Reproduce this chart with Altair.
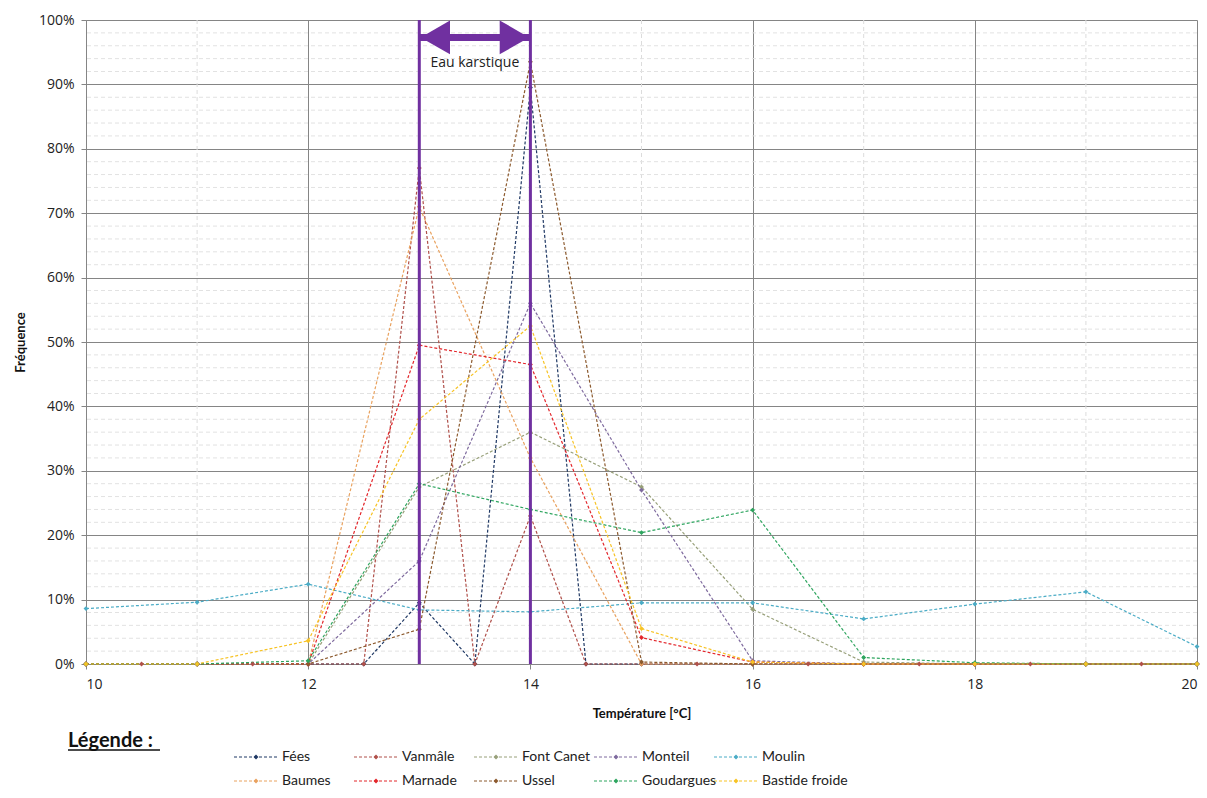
import altair as alt
import pandas as pd

# ---------------- data ----------------
series_names = ["Fées", "Vanmâle", "Font Canet", "Monteil", "Moulin",
                "Baumes", "Marnade", "Ussel", "Goudargues", "Bastide froide"]
series_colors = ["#1F3864", "#B0504A", "#98A07A", "#7E6A9E", "#4BACC6",
                 "#E9A25F", "#E3262B", "#8C5A2E", "#2EA55F", "#F7C325"]

temps_int = [10, 11, 12, 13, 14, 15, 16, 17, 18, 19, 20]

fees_x = [10, 11, 12, 12.5, 13, 13.5, 14, 14.5, 15, 16, 17, 18, 19, 20]
fees_y = [0, 0, 0, 0, 9.5, 0, 89.5, 0, 0, 0, 0, 0, 0, 0]

vanmale_x = [10, 10.5, 11, 11.5, 12, 12.5, 13, 13.5, 14, 14.5, 15, 15.5,
             16, 16.5, 17, 17.5, 18, 18.5, 19, 19.5, 20]
vanmale_y = [0, 0, 0, 0, 0, 0, 77, 0, 23, 0, 0, 0,
             0, 0, 0, 0, 0, 0, 0, 0, 0]

font_canet_y = [0, 0, 0, 27.5, 36, 27.5, 8.5, 0.3, 0, 0, 0]
monteil_y = [0, 0, 0, 16, 56, 27, 0.5, 0, 0, 0, 0]
moulin_y = [8.6, 9.6, 12.4, 8.4, 8.1, 9.5, 9.5, 7.0, 9.3, 11.2, 2.7]
baumes_y = [0, 0, 0, 71, 32, 0, 0, 0, 0, 0, 0]
marnade_y = [0, 0, 0, 49.5, 46.5, 4.1, 0.3, 0, 0, 0, 0]
ussel_y = [0, 0, 0, 5.4, 93.5, 0.3, 0, 0, 0, 0, 0]
goudargues_y = [0, 0, 0.5, 28, 24, 20.4, 23.9, 1.0, 0.2, 0, 0]
bastide_y = [0, 0, 3.6, 38, 52.5, 5.5, 0.3, 0, 0, 0, 0]

x_major = [10, 12, 14, 16, 18, 20]
x_minor = [11, 13, 15, 17, 19]
y_major = [0, 10, 20, 30, 40, 50, 60, 70, 80, 90, 100]
y_minor = [2, 4, 6, 8, 12, 14, 16, 18, 22, 24, 26, 28, 32, 34, 36, 38,
           42, 44, 46, 48, 52, 54, 56, 58, 62, 64, 66, 68, 72, 74, 76, 78,
           82, 84, 86, 88, 92, 94, 96, 98]

karst_bounds = [13, 14]
arrow_level = 97.3
karst_label = "Eau karstique"
karst_label_pos = [13.5, 93.3]

# ---------------- tables ----------------
series_xy = {
    "Fées": (fees_x, fees_y),
    "Vanmâle": (vanmale_x, vanmale_y),
    "Font Canet": (temps_int, font_canet_y),
    "Monteil": (temps_int, monteil_y),
    "Moulin": (temps_int, moulin_y),
    "Baumes": (temps_int, baumes_y),
    "Marnade": (temps_int, marnade_y),
    "Ussel": (temps_int, ussel_y),
    "Goudargues": (temps_int, goudargues_y),
    "Bastide froide": (temps_int, bastide_y),
}
rows = []
for k, name in enumerate(series_names):
    xs, ys = series_xy[name]
    for i, (t, f) in enumerate(zip(xs, ys)):
        rows.append({"serie": name, "k": k, "i": i, "t": t, "f": f})
df = pd.DataFrame(rows)

FONT = "Open Sans"
FONT2 = "Lato"
PURPLE = "#7030A0"

xscale = alt.Scale(domain=[10, 20], nice=False, zero=False)
yscale = alt.Scale(domain=[0, 100], nice=False)
cscale = alt.Scale(domain=series_names, range=series_colors)

W, H = 1111, 644

# minor grid
minor_v = alt.Chart(pd.DataFrame({"t": x_minor})).mark_rule(
    color="#dcdcdc", strokeWidth=1, strokeDash=[4, 3]
).encode(x=alt.X("t:Q", scale=xscale))
minor_h = alt.Chart(pd.DataFrame({"f": y_minor})).mark_rule(
    color="#e2e2e2", strokeWidth=1, strokeDash=[4, 3]
).encode(y=alt.Y("f:Q", scale=yscale))

x_axis = alt.Axis(values=x_major, grid=True, gridColor="#858585", gridWidth=1,
                  domainColor="#858585", tickColor="#858585", tickSize=5,
                  labelFont=FONT, labelFontSize=14, labelColor="#222",
                  labelPadding=8, format="d", title="Température [°C]",
                  titleFont=FONT2, titleFontSize=13, titleFontWeight="bold",
                  titleColor="#111", titlePadding=16)
y_axis = alt.Axis(values=y_major, grid=True, gridColor="#858585", gridWidth=1,
                  domainColor="#858585", tickColor="#858585", tickSize=5,
                  labelFont=FONT, labelFontSize=14, labelColor="#222",
                  labelPadding=7, labelExpr="datum.value + '%'",
                  title="Fréquence", titleFont=FONT2, titleFontSize=13,
                  titleFontWeight="bold", titleColor="#111", titlePadding=11)

base = alt.Chart(df).encode(
    x=alt.X("t:Q", scale=xscale, axis=x_axis),
    y=alt.Y("f:Q", scale=yscale, axis=y_axis),
    color=alt.Color("serie:N", scale=cscale, legend=None),
    detail="serie:N",
)
lines = base.mark_line(strokeWidth=1.2, strokeDash=[3, 2]).encode(order="i:Q")
points = base.mark_point(shape="diamond", filled=True, size=24, opacity=1)

# karst annotation
kdf = pd.DataFrame({"t": karst_bounds})
karst_rules = alt.Chart(kdf).mark_rule(color=PURPLE, strokeWidth=3).encode(
    x=alt.X("t:Q", scale=xscale), y=alt.datum(0), y2=alt.datum(100))
shaft = alt.Chart(pd.DataFrame({"a": [karst_bounds[0]], "b": [karst_bounds[1]],
                                "f": [arrow_level]})).mark_rule(
    color=PURPLE, strokeWidth=7).encode(
    x=alt.X("a:Q", scale=xscale), x2="b:Q", y=alt.Y("f:Q", scale=yscale))
head_l = alt.Chart(pd.DataFrame({"t": [karst_bounds[0]], "f": [arrow_level]})).mark_point(
    shape="triangle-left", filled=True, size=1150, color=PURPLE, opacity=1, xOffset=16
).encode(x=alt.X("t:Q", scale=xscale), y=alt.Y("f:Q", scale=yscale))
head_r = alt.Chart(pd.DataFrame({"t": [karst_bounds[1]], "f": [arrow_level]})).mark_point(
    shape="triangle-right", filled=True, size=1150, color=PURPLE, opacity=1, xOffset=-16
).encode(x=alt.X("t:Q", scale=xscale), y=alt.Y("f:Q", scale=yscale))
ktext = alt.Chart(pd.DataFrame({"t": [karst_label_pos[0]], "f": [karst_label_pos[1]],
                                "txt": [karst_label]})).mark_text(
    font=FONT, fontSize=14, color="#222", baseline="middle", align="center"
).encode(x=alt.X("t:Q", scale=xscale), y=alt.Y("f:Q", scale=yscale), text="txt:N")

# custom legend (laid out below the plot)
leg = pd.DataFrame({"serie": series_names})
leg["col"] = [i % 5 for i in range(len(series_names))]
leg["row"] = [i // 5 for i in range(len(series_names))]
leg["lx0"] = 148 + leg["col"] * 120
leg["lx1"] = leg["lx0"] + 45
leg["lxm"] = leg["lx0"] + 22
leg["ltx"] = leg["lx0"] + 48
leg["ly"] = 737 + leg["row"] * 24
lbase = alt.Chart(leg).encode(
    y=alt.Y("ly:Q", scale=None, axis=None),
    color=alt.Color("serie:N", scale=cscale, legend=None))
leg_lines = lbase.mark_rule(strokeWidth=1, strokeDash=[3, 2]).encode(
    x=alt.X("lx0:Q", scale=None, axis=None), x2="lx1:Q")
leg_pts = lbase.mark_point(shape="diamond", filled=True, size=24, opacity=1).encode(
    x=alt.X("lxm:Q", scale=None, axis=None))
leg_txt = alt.Chart(leg).mark_text(font=FONT2, fontSize=14, color="#222",
                                   align="left", baseline="middle").encode(
    x=alt.X("ltx:Q", scale=None, axis=None), y=alt.Y("ly:Q", scale=None, axis=None),
    text="serie:N")
leg_title = alt.Chart(pd.DataFrame({"txt": ["Légende :"]})).mark_text(
    font=FONT2, fontSize=20, fontWeight="bold", color="#111", align="left",
    baseline="alphabetic"
).encode(x=alt.value(-18), y=alt.value(727), text="txt:N")
leg_ul = alt.Chart(pd.DataFrame({"a": [0]})).mark_rule(color="#111", strokeWidth=1.5).encode(
    x=alt.value(-18), x2=alt.value(74), y=alt.value(730))

chart = alt.layer(
    minor_v, minor_h, lines, points, karst_rules, shaft, head_l, head_r, ktext,
    leg_lines, leg_pts, leg_txt, leg_title, leg_ul
).properties(
    width=W, height=H,
    autosize=alt.AutoSizeParams(type="none"),
    padding={"left": 86, "top": 20, "right": 10, "bottom": 134},
    background="white",
).configure_view(stroke=None)

chart.save("out.html", embed_options={"renderer": "svg", "actions": False})
